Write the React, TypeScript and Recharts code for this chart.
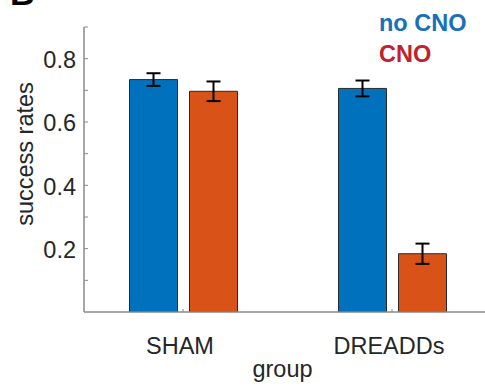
import React from 'react';
import { BarChart, Bar, XAxis, YAxis, ErrorBar } from 'recharts';

const groups = ['SHAM', 'DREADDs'];
const noCnoValues = [0.734, 0.706];
const noCnoErrors = [0.02, 0.025];
const cnoValues = [0.697, 0.184];
const cnoErrors = [0.031, 0.032];
const yTicks = [0.1, 0.2, 0.3, 0.4, 0.5, 0.6, 0.7, 0.8, 0.9];
const yLabelTicks = [0.2, 0.4, 0.6, 0.8];

const data = groups.map((g, i) => ({
  group: g,
  noCno: noCnoValues[i],
  noCnoErr: noCnoErrors[i],
  cno: cnoValues[i],
  cnoErr: cnoErrors[i],
}));

const FONT = '"Liberation Sans", Arial, Helvetica, sans-serif';
const TXT = '#262626';
const AXIS = '#8a8a8a';

const YTick = (props: any) => {
  const { x, y, payload } = props;
  const v = Math.round(payload.value * 10) / 10;
  if (!yLabelTicks.some((t) => Math.abs(t - v) < 1e-6)) return null;
  return (
    <text x={x} y={y} dy="0.4em" textAnchor="end" fontFamily={FONT} fontSize={23.5} fill={TXT}>
      {v.toFixed(1)}
    </text>
  );
};

const XTick = (props: any) => {
  const { x, y, payload } = props;
  return (
    <text x={x} y={y} dx={-3} dy="0.71em" textAnchor="middle" fontFamily={FONT} fontSize={23.5} fill={TXT}>
      {payload.value}
    </text>
  );
};

export default function App() {
  return (
    <div style={{ position: 'absolute', left: 0, top: 0, width: 485, height: 386, overflow: 'hidden', background: '#fff' }}>
      <BarChart
        width={485}
        height={386}
        data={data}
        margin={{ top: 27, right: 0, bottom: 0, left: 0 }}
        barSize={48}
        barGap={12}
      >
        <XAxis
          dataKey="group"
          height={74}
          padding={{ left: -5.5, right: -11.5 }}
          stroke={AXIS}
          tickSize={-3}
          tickMargin={28}
          tick={<XTick />}
          tickLine={{ stroke: AXIS }}
          axisLine={{ stroke: AXIS, strokeWidth: 1.5 }}
        />
        <YAxis
          width={84}
          domain={[0, 0.9]}
          ticks={yTicks}
          interval={0}
          allowDataOverflow
          stroke={AXIS}
          tickSize={-4}
          tickMargin={12}
          tick={<YTick />}
          tickLine={{ stroke: AXIS }}
          axisLine={{ stroke: AXIS, strokeWidth: 1.5 }}
        />
        <Bar dataKey="noCno" fill="#0072BD" stroke="#2a2a2a" strokeWidth={1} isAnimationActive={false}>
          <ErrorBar dataKey="noCnoErr" width={7} strokeWidth={2} stroke="#000" />
        </Bar>
        <Bar dataKey="cno" fill="#D95319" stroke="#2a2a2a" strokeWidth={1} isAnimationActive={false}>
          <ErrorBar dataKey="cnoErr" width={7} strokeWidth={2} stroke="#000" />
        </Bar>
        <text x={10} y={5} fontFamily={FONT} fontWeight="bold" fontSize={34} fill="#000">B</text>
        <text
          x={32.5}
          y={154}
          transform="rotate(-90 32.5 154)"
          textAnchor="middle"
          fontFamily={FONT}
          fontSize={23.5}
          fill={TXT}
        >
          success rates
        </text>
        <text x={282.5} y={376.5} textAnchor="middle" fontFamily={FONT} fontSize={23.5} fill={TXT}>
          group
        </text>
        <text x={379} y={31} fontFamily={FONT} fontWeight="bold" fontSize={23.5} fill="#1770B8">
          no CNO
        </text>
        <text x={379} y={62} fontFamily={FONT} fontWeight="bold" fontSize={23.5} fill="#C0202F">
          CNO
        </text>
      </BarChart>
    </div>
  );
}
